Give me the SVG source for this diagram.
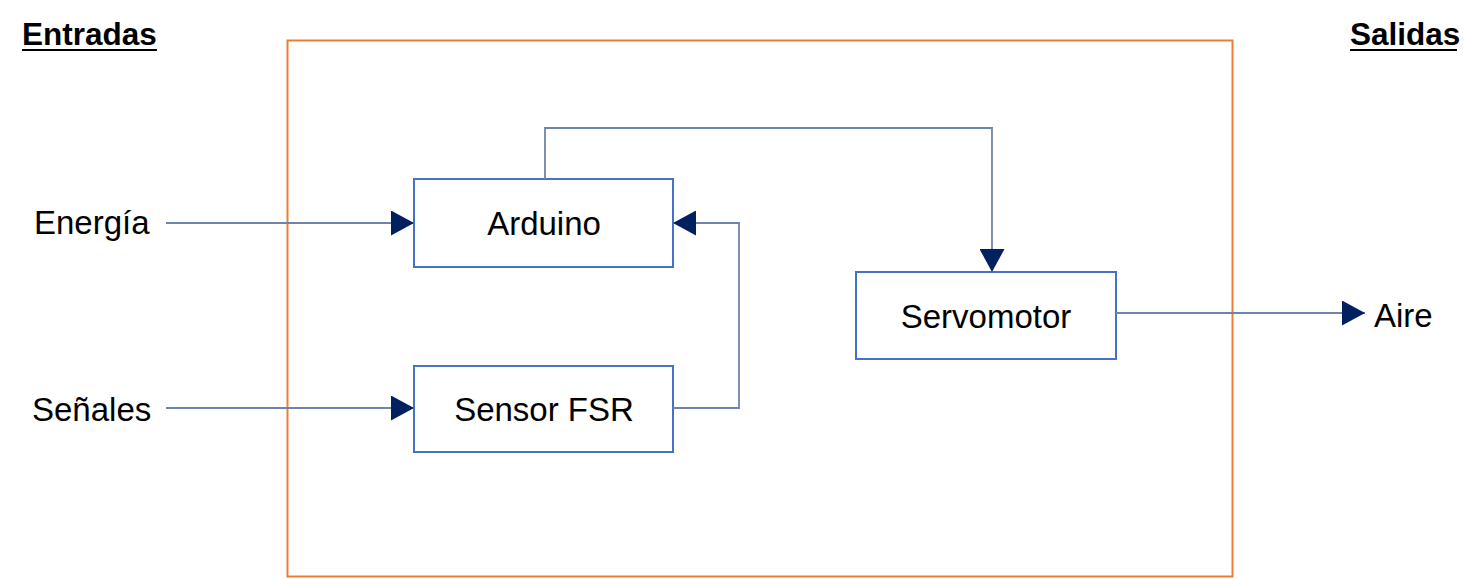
<svg xmlns="http://www.w3.org/2000/svg" width="1481" height="579" viewBox="0 0 1481 579">
<style>
text{font-family:"Liberation Sans",Arial,sans-serif;fill:#000;}
.lbl{font-size:33px;}
.hdr{font-size:31.5px;font-weight:bold;}
.node rect{fill:#fff;stroke:#4472C4;stroke-width:2;}
.conn{fill:none;stroke:#6F84AC;stroke-width:1.8;}
</style>
<defs>
<marker id="ah" markerWidth="23" markerHeight="25" refX="23" refY="12.5" orient="auto" markerUnits="userSpaceOnUse">
<path d="M0,0 L23,12.5 L0,25 Z" fill="#002060"/>
</marker>
</defs>
<rect id="sistema" x="287.5" y="40.5" width="945" height="536" fill="none" stroke="#ED7D31" stroke-width="2"/>
<g id="entradas"><text class="hdr" x="22" y="45">Entradas</text><line x1="22" y1="50" x2="157" y2="50" stroke="#000" stroke-width="2"/></g>
<g id="salidas"><text class="hdr" x="1350" y="45">Salidas</text><line x1="1350" y1="50" x2="1457" y2="50" stroke="#000" stroke-width="2"/></g>
<g id="energia"><text class="lbl" x="34" y="234">Energía</text></g>
<g id="senales"><text class="lbl" x="32" y="421">Señales</text></g>
<g id="aire"><text class="lbl" x="1374" y="327">Aire</text></g>
<g id="arduino" class="node"><rect x="414" y="179" width="259" height="88"/><text class="lbl" x="544" y="235" text-anchor="middle">Arduino</text></g>
<g id="sensor" class="node"><rect x="414" y="366" width="259" height="86"/><text class="lbl" x="544" y="421" text-anchor="middle">Sensor FSR</text></g>
<g id="servomotor" class="node"><rect x="856" y="272" width="260" height="87"/><text class="lbl" x="986" y="328" text-anchor="middle">Servomotor</text></g>
<g id="connectors">
<path class="conn" d="M166,223 H414" marker-end="url(#ah)"/>
<path class="conn" d="M166,408 H414" marker-end="url(#ah)"/>
<path class="conn" d="M673,408 H739 V223 H673" marker-end="url(#ah)"/>
<path class="conn" d="M545,179 V128 H992 V272" marker-end="url(#ah)"/>
<path class="conn" d="M1116,313 H1365" marker-end="url(#ah)"/>
</g>
</svg>
